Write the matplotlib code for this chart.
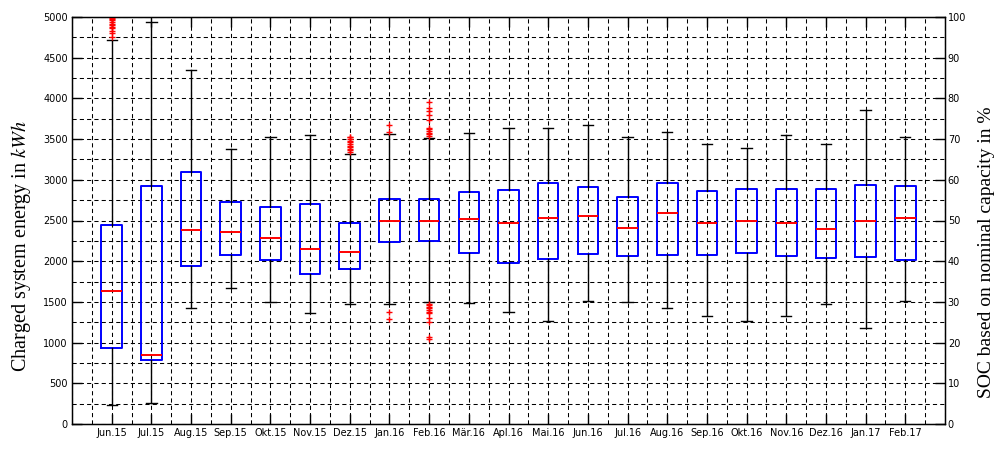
import numpy as np
import matplotlib.pyplot as plt
from matplotlib.ticker import MultipleLocator

plt.rcParams['mathtext.fontset'] = 'stix'

months = ['Jun.15', 'Jul.15', 'Aug.15', 'Sep.15', 'Okt.15', 'Nov.15', 'Dez.15',
          'Jan.16', 'Feb.16', 'Mär.16', 'Apl.16', 'Mai.16', 'Jun.16', 'Jul.16',
          'Aug.16', 'Sep.16', 'Okt.16', 'Nov.16', 'Dez.16', 'Jan.17', 'Feb.17']

# box statistics in kWh
whislo = [237, 252, 1426, 1667, 1500, 1358, 1469, 1472, 1500, 1484, 1377,
          1270, 1507, 1496, 1423, 1327, 1270, 1327, 1472, 1174, 1507]
q1 = [937, 792, 1947, 2077, 2016, 1847, 1905, 2234, 2253, 2104, 1977,
      2031, 2089, 2058, 2073, 2073, 2104, 2058, 2035, 2046, 2016]
med = [1637, 849, 2387, 2356, 2287, 2146, 2119, 2494, 2494, 2513, 2471,
       2529, 2556, 2414, 2593, 2471, 2498, 2471, 2398, 2498, 2529]
q3 = [2440, 2919, 3091, 2724, 2667, 2708, 2471, 2762, 2762, 2854, 2877,
      2965, 2908, 2792, 2965, 2865, 2892, 2892, 2888, 2934, 2919]
whishi = [4717, 4939, 4345, 3374, 3527, 3546, 3317, 3558, 3519, 3569, 3642,
          3642, 3669, 3527, 3584, 3443, 3393, 3546, 3443, 3852, 3527]

# outliers (red +)
fliers = {
    'Jun.15': [4760, 4800, 4830, 4860, 4880, 4900, 4920, 4940, 4960, 4975, 4990, 5000],
    'Dez.15': [3340, 3360, 3380, 3400, 3420, 3440, 3460, 3480, 3500, 3520, 3530],
    'Jan.16': [3590, 3675, 1380, 1285],
    'Feb.16': [3540, 3560, 3580, 3600, 3620, 3640, 3730, 3790, 3845, 3885, 3960,
               1480, 1460, 1440, 1420, 1400, 1380, 1360, 1300, 1250, 1070, 1050],
}

stats = []
for i, m in enumerate(months):
    stats.append({'label': m, 'whislo': whislo[i], 'q1': q1[i], 'med': med[i],
                  'q3': q3[i], 'whishi': whishi[i],
                  'fliers': np.array(fliers.get(m, []))})

fig = plt.figure(figsize=(10.03, 4.67), dpi=100)
ax = fig.add_axes([72/1003, 1 - 424/467, (945-72)/1003, (424-17)/467])

pos = np.arange(1, len(months) + 1)
ax.bxp(stats, positions=pos, widths=0.52, capwidths=0.26,
       boxprops=dict(color='#0000ff', linewidth=1.4),
       medianprops=dict(color='#ff0000', linewidth=1.4),
       whiskerprops=dict(color='black', linewidth=1.0),
       capprops=dict(color='black', linewidth=1.0),
       flierprops=dict(marker='+', markeredgecolor='#ff0000', markersize=4,
                       markeredgewidth=1.0, linestyle='none'),
       zorder=3)

ax.set_xlim(0, 22)
ax.set_ylim(0, 5000)
ax.set_xticks(pos)
ax.set_xticklabels(months)
ax.xaxis.set_minor_locator(MultipleLocator(0.5))
ax.yaxis.set_major_locator(MultipleLocator(500))
ax.yaxis.set_minor_locator(MultipleLocator(250))

grid_kw = dict(color='black', linestyle=(0, (4, 3)), linewidth=0.75)
ax.grid(True, which='both', **grid_kw)
ax.set_axisbelow(True)

ax.tick_params(which='major', direction='in', length=7, width=1, labelsize=7,
               top=True, pad=3, colors='black')
ax.tick_params(which='minor', length=0)
for s in ax.spines.values():
    s.set_linewidth(1.0)

ax2 = ax.twinx()
ax2.set_ylim(0, 100)
ax2.yaxis.set_major_locator(MultipleLocator(10))
ax2.tick_params(direction='in', length=7, width=1, labelsize=7, pad=2)

fig.text(21/1003, 0.473, 'Charged system energy in $kWh$', rotation=90,
         ha='center', va='center', fontsize=14.5, family='Liberation Serif')
fig.text(987/1003, 0.46, 'SOC based on nominal capacity in %', rotation=90,
         ha='center', va='center', fontsize=14, family='Liberation Serif')

fig.savefig('out.png', dpi=100)
